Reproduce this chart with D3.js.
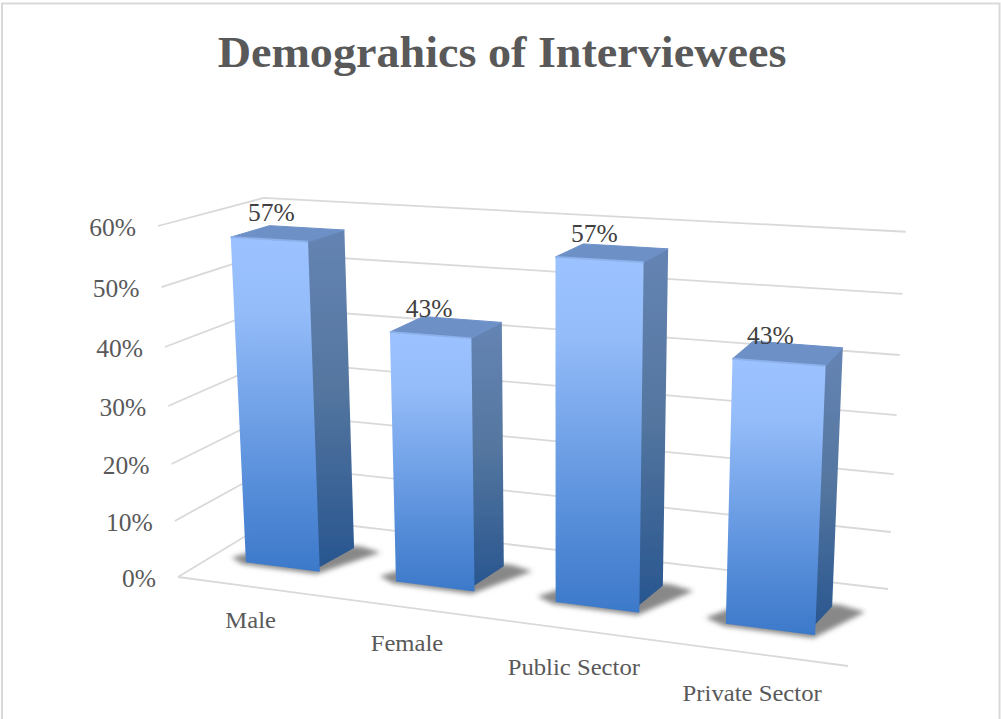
<!DOCTYPE html>
<html>
<head>
<meta charset="utf-8">
<title>Demographics of Interviewees</title>
<script src="https://cdn.jsdelivr.net/npm/d3@7"></script>
<style>
  html, body { margin: 0; padding: 0; background: #fff; overflow: hidden; }
  svg { display: block; }
</style>
</head>
<body>
<svg id="chart" width="1001" height="719"></svg>
<script>
// Chart content
const chartTitle = "Demograhics of Interviewees";
const categories = ["Male", "Female", "Public Sector", "Private Sector"];
const shares = [0.57, 0.43, 0.57, 0.43];
const tickValues = [0, 0.1, 0.2, 0.3, 0.4, 0.5, 0.6];

// Camera: the floor quadrilateral on screen plus the lean of the vertical axis
const floorFL = [178, 577], floorFR = [848, 666], floorBR = [888, 589], floorBL = [277, 517];
const riseX = -27.9, riseY = -362.3, riseW = -0.05;

const W = 1001, H = 719;
const svg = d3.select("#chart").attr("viewBox", [0, 0, W, H]);
const defs = svg.append("defs");

// Plane-to-quad homography for the floor, extended with a height term
function makeProjection(p0, p1, p2, p3) {
  const dx1 = p1[0] - p2[0], dx2 = p3[0] - p2[0], sx = p0[0] - p1[0] + p2[0] - p3[0];
  const dy1 = p1[1] - p2[1], dy2 = p3[1] - p2[1], sy = p0[1] - p1[1] + p2[1] - p3[1];
  const det = dx1 * dy2 - dx2 * dy1;
  const g = (sx * dy2 - dx2 * sy) / det;
  const h = (dx1 * sy - sx * dy1) / det;
  const a = p1[0] - p0[0] + g * p1[0], b = p3[0] - p0[0] + h * p3[0], c = p0[0];
  const d = p1[1] - p0[1] + g * p1[1], e = p3[1] - p0[1] + h * p3[1], f = p0[1];
  return (u, v, t) => {
    const w = 1 + g * u + h * v + riseW * t;
    return [(a * u + b * v + c + riseX * t) / w, (d * u + e * v + f + riseY * t) / w];
  };
}
const project = makeProjection(floorFL, floorFR, floorBR, floorBL);

// Scales from data to the unit chart box
const uScale = d3.scaleBand().domain(categories).range([0, 1]).paddingInner(0.5).paddingOuter(0.25);
const tScale = d3.scaleLinear().domain([0, 0.6]).range([0, 1]);
const vFront = 0.3, vBack = 0.68;
const pct = d3.format(".0%");

// Blurs for the floor shadows and the soft bevels
const shadowBlur = defs.append("filter").attr("id", "shadowBlur")
  .attr("x", "-30%").attr("y", "-50%").attr("width", "160%").attr("height", "200%");
shadowBlur.append("feGaussianBlur").attr("stdDeviation", 2.6);
const softEdge = defs.append("filter").attr("id", "softEdge")
  .attr("x", "-10%").attr("y", "-10%").attr("width", "120%").attr("height", "120%");
softEdge.append("feGaussianBlur").attr("stdDeviation", 0.7);

const polyPath = pts => "M" + pts.map(p => p.map(n => n.toFixed(2)).join(",")).join("L") + "Z";

// Outer frame
svg.append("rect").attr("x", 2).attr("y", 3.5).attr("width", 997.5).attr("height", 730)
  .attr("fill", "#fff").attr("stroke", "#d9d9d9").attr("stroke-width", 2);

// Title
const serif = "'Liberation Serif', serif";
function stretch(sel, ratio) {
  sel.each(function () {
    this.setAttribute("textLength", this.getComputedTextLength() * ratio);
    this.setAttribute("lengthAdjust", "spacingAndGlyphs");
  });
  return sel;
}
stretch(svg.append("text").attr("x", 502).attr("y", 67).attr("text-anchor", "middle")
  .attr("font-family", serif).attr("font-weight", "bold").attr("font-size", 45)
  .attr("fill", "#595959").text(chartTitle), 1.025);

// Gridlines along the left wall, back wall and floor edge
const grid = svg.append("g").attr("fill", "none").attr("stroke", "#d9d9d9").attr("stroke-width", 1.8);
tickValues.forEach(tv => {
  const t = tScale(tv);
  grid.append("path").attr("d", d3.line()([project(0, 0, t), project(0, 1, t), project(1, 1, t)]));
});
grid.append("path").attr("d", d3.line()([project(0, 0, 0), project(1, 0, 0)]));

// Value axis labels
svg.append("g").selectAll("text").data(tickValues).join("text")
  .attr("x", d => project(0, 0, tScale(d))[0] - 22)
  .attr("y", d => project(0, 0, tScale(d))[1] + 10)
  .attr("text-anchor", "end").attr("font-family", serif).attr("font-size", 25.5)
  .attr("fill", "#595959").text(pct);

// Category labels below the front edge
stretch(svg.append("g").selectAll("text").data(categories).join("text")
  .attr("x", d => project(uScale(d) + uScale.bandwidth() / 2, 0, 0)[0] - 2)
  .attr("y", d => {
    const u = uScale(d) + uScale.bandwidth() / 2;
    return project(u, 0, 0)[1] + 40 + 8 * u;
  })
  .attr("text-anchor", "middle").attr("font-family", serif).attr("font-size", 23.5)
  .attr("fill", "#595959").text(d => d), 1.05);

// Gradients for one bar's faces
function addGradient(id, y0, y1, stops) {
  const lg = defs.append("linearGradient").attr("id", id)
    .attr("gradientUnits", "userSpaceOnUse")
    .attr("x1", 0).attr("x2", 0).attr("y1", y0).attr("y2", y1);
  stops.forEach(([o, c]) => lg.append("stop").attr("offset", o).attr("stop-color", c));
}

// Bars, drawn left to right with shadows first
const barsData = categories.map((c, i) => ({ c, i, value: shares[i] }));

svg.append("g").selectAll("path").data(barsData).join("path")
  .attr("d", d => {
    const u0 = uScale(d.c), u1 = u0 + uScale.bandwidth();
    return polyPath([
      project(u0 - 0.032, vFront + 0.04, 0), project(u0, vFront - 0.03, 0),
      project(u1, vFront - 0.035, 0), project(u1 + 0.048, vBack - 0.02, 0),
      project(u1 + 0.01, vBack + 0.03, 0), project(u0 + 0.02, vBack, 0)
    ]);
  })
  .attr("fill", "#5a5a5a").attr("fill-opacity", 0.72).attr("filter", "url(#shadowBlur)");

const bars = svg.append("g").selectAll("g").data(barsData).join("g");
bars.each(function (d) {
  const g = d3.select(this);
  const u0 = uScale(d.c), u1 = u0 + uScale.bandwidth(), t = tScale(d.value);
  const fb0 = project(u0, vFront, 0), fb1 = project(u1, vFront, 0), bb1 = project(u1, vBack, 0);
  const ft0 = project(u0, vFront, t), ft1 = project(u1, vFront, t);
  const bt0 = project(u0, vBack, t), bt1 = project(u1, vBack, t);
  const yTop = Math.min(ft0[1], ft1[1]), yBot = Math.max(fb0[1], fb1[1]);

  addGradient(`front${d.i}`, yTop, yBot, [[0, "#9cc3ff"], [0.22, "#94bcf9"], [0.75, "#568dd9"], [1, "#3c79c9"]]);
  addGradient(`side${d.i}`, yTop, yBot, [[0, "#6483b2"], [0.45, "#54769f"], [1, "#27558f"]]);

  const faces = g.append("g").attr("filter", "url(#softEdge)");
  // The side face runs a little under the front face so no seam shows between them
  const under = 0.012;
  faces.append("path")
    .attr("d", polyPath([project(u1 - under, vFront, t), bt1, bb1, project(u1 - under, vFront, 0)]))
    .attr("fill", `url(#side${d.i})`);
  faces.append("path").attr("d", polyPath([ft0, ft1, fb1, fb0]))
    .attr("fill", `url(#front${d.i})`);
  faces.append("path").attr("d", polyPath([ft0, bt0, bt1, ft1]))
    .attr("fill", "#6d90c7").attr("stroke", "#6d90c7").attr("stroke-width", 1).attr("stroke-linejoin", "round");
  // Bevel highlight along the top front edge
  faces.append("path").attr("d", d3.line()([ft0, ft1]))
    .attr("fill", "none").attr("stroke", "#93b8f2").attr("stroke-width", 2).attr("stroke-opacity", 0.8);
});

// Value labels above the bars
svg.append("g").selectAll("text").data(barsData).join("text")
  .attr("x", d => {
    const u = uScale(d.c) + uScale.bandwidth() / 2;
    return project(u, vFront, tScale(d.value))[0] + 4 - 14 * u;
  })
  .attr("y", d => project(uScale(d.c) + uScale.bandwidth() / 2, vFront, tScale(d.value))[1] - 18)
  .attr("text-anchor", "middle").attr("font-family", serif).attr("font-size", 25.5)
  .attr("fill", "#404040").text(d => pct(d.value));
</script>
</body>
</html>
